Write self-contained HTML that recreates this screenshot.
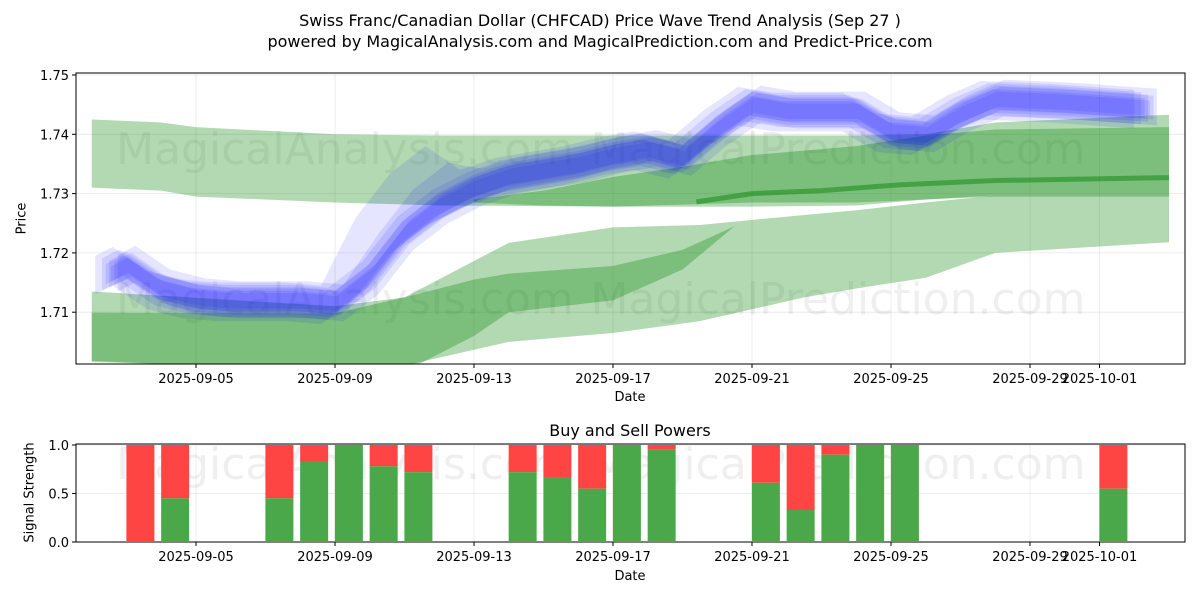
<!DOCTYPE html>
<html><head><meta charset="utf-8"><style>
body{margin:0;background:#fff;font-family:"Liberation Sans","DejaVu Sans",sans-serif}
svg text{font-family:"DejaVu Sans","Liberation Sans",sans-serif}
</style></head><body>
<svg id="c" width="1200" height="600" viewBox="0 0 1200 600" xmlns="http://www.w3.org/2000/svg">
<rect width="1200" height="600" fill="#fff"/>
<text x="600" y="26" text-anchor="middle" font-size="16">Swiss Franc/Canadian Dollar (CHFCAD) Price Wave Trend Analysis (Sep 27 )</text>
<text x="600" y="47" text-anchor="middle" font-size="16">powered by MagicalAnalysis.com and MagicalPrediction.com and Predict-Price.com</text>
<g id="main"></g>
<g id="sub"></g>
</svg>
<script>
// ---- data ----
const tickDays=[3,7,11,15,19,23,27,29];
const tickLabels=["2025-09-05","2025-09-09","2025-09-13","2025-09-17","2025-09-21","2025-09-25","2025-09-29","2025-10-01"];
const priceTicks=[1.71,1.72,1.73,1.74,1.75];
const bandAdays=[0,2,3,7,10,15,19,22,24,26,31];
const bandAtop=[1.7425,1.7420,1.7412,1.7400,1.7398,1.7398,1.7398,1.7398,1.7400,1.7420,1.7433];
const bandAbot=[1.7310,1.7305,1.7295,1.7285,1.7280,1.7278,1.7285,1.7285,1.7290,1.7295,1.7295];
const bandBdays=[0,7,9,12,15,17.5,20.5,22,24,26,31];
const bandBtop=[1.7135,1.7110,1.7125,1.7217,1.7243,1.7247,1.7264,1.7272,1.7285,1.7297,1.7297];
const bandBbot=[1.7016,1.7005,1.7010,1.7050,1.7065,1.7085,1.7125,1.7140,1.7158,1.7200,1.7218];
const bandCdays=[0,7,9,11,12,15,17,18.5];
const bandCtop=[1.7099,1.7098,1.7125,1.7155,1.7165,1.7178,1.7205,1.7245];
const bandCbot=[1.7018,1.7000,1.7000,1.7060,1.7100,1.7120,1.7172,1.7245];
const bandDdays=[11,13,15,17,19,22,24,26,31];
const bandDtop=[1.7290,1.7305,1.7328,1.7345,1.7365,1.7380,1.7398,1.7408,1.7412];
const bandDbot=[1.7285,1.7280,1.7278,1.7278,1.7278,1.7280,1.7290,1.7297,1.7297];
const meanDays=[17.4,19,21,23.3,26,31];
const meanVals=[1.7286,1.7300,1.7305,1.7315,1.7322,1.7327];
const waveDays=[0.5,1,2,3,4,6,7,8,9,10,11,12,14,15,16,17,18,19,20,22,23,24,25,26,28,30.4];
const waveVals=[1.7165,1.7180,1.7140,1.7125,1.7120,1.7120,1.7115,1.7160,1.7235,1.7280,1.7310,1.7330,1.7350,1.7365,1.7375,1.7360,1.7410,1.7450,1.7440,1.7440,1.7405,1.7400,1.7435,1.7460,1.7455,1.7445];
const barDays=[2,3,6,7,8,9,10,13,14,15,16,17,20,21,22,23,24,30];
const buyVals=[0,0.45,0.45,0.83,1.0,0.78,0.72,0.72,0.67,0.55,1.0,0.95,0.61,0.33,0.9,1.0,1.0,0.55];
const sigTicks=[0,0.5,1.0];
// ---- scales ----
const X0=76,X1=1185,Y0=73,Y1=364;
const x=d=>91.75+34.75*d;
const y=v=>75+(1.75-v)*5930;
const SY0=444,SY1=542;
const sy=v=>542-v*97;
const NS="http://www.w3.org/2000/svg";
function el(p,t,a){const e=document.createElementNS(NS,t);for(const k in a)e.setAttribute(k,a[k]);p.appendChild(e);return e;}
const main=document.getElementById('main'),sub=document.getElementById('sub');
const defs=el(document.getElementById('c'),'defs',{});
const cp=el(defs,'clipPath',{id:'clipM'});el(cp,'rect',{x:X0,y:Y0,width:X1-X0,height:Y1-Y0});
tickDays.forEach(d=>{
 const g=el(main,'line',{x1:x(d),x2:x(d),y1:Y0,y2:Y1,stroke:'#b0b0b0','stroke-opacity':0.3,'stroke-width':0.8});
 
 const g2=el(sub,'line',{x1:x(d),x2:x(d),y1:SY0,y2:SY1,stroke:'#b0b0b0','stroke-opacity':0.3,'stroke-width':0.8});
 
});
priceTicks.forEach(v=>{const g=el(main,'line',{x1:X0,x2:X1,y1:y(v),y2:y(v),stroke:'#b0b0b0','stroke-opacity':0.3,'stroke-width':0.8});
 });
sigTicks.forEach(v=>{const g=el(sub,'line',{x1:X0,x2:X1,y1:sy(v),y2:sy(v),stroke:'#b0b0b0','stroke-opacity':0.3,'stroke-width':0.8});
 });
[[345,148,'MagicalAnalysis.com'],[838,148,'MagicalPrediction.com'],[345,298,'MagicalAnalysis.com'],[838,298,'MagicalPrediction.com'],[345,463,'MagicalAnalysis.com'],[838,463,'MagicalPrediction.com']].forEach(w=>{
 const t=el(main,'text',{x:w[0],y:w[1]+16,'text-anchor':'middle','font-size':44,fill:'#808080','fill-opacity':0.13});t.textContent=w[2];
 });
const plot=el(main,'g',{'clip-path':'url(#clipM)'});
function band(days,top,bot,fill,op,name){
 let pts=days.map((d,i)=>x(d)+','+y(top[i]));
 for(let i=days.length-1;i>=0;i--)pts.push(x(days[i])+','+y(bot[i]));
 const p=el(plot,'polygon',{points:pts.join(' '),fill:fill,'fill-opacity':op});
 
}
band(bandAdays,bandAtop,bandAbot,'#008000',0.3,'forecast-band-upper');
band(bandBdays,bandBtop,bandBbot,'#008000',0.3,'forecast-band-lower');
band(bandCdays,bandCtop,bandCbot,'#008000',0.3,'forecast-band-inner');
band(bandDdays,bandDtop,bandDbot,'#008000',0.3,'forecast-band-core');
const ml=el(plot,'polyline',{points:meanDays.map((d,i)=>x(d)+','+y(meanVals[i])).join(' '),fill:'none',stroke:'#008000','stroke-opacity':0.45,'stroke-width':5});

const layers=[[0.0030,0.0035,0.10,0.8,0.007],[0.0032,0.0030,0.10,-0.5,0.004],[0.0026,0.0028,0.10,0.4,0],[0.0022,0.0024,0.10,0,0],[0.0020,0.0020,0.10,-0.3,0],[0.0016,0.0018,0.10,0.2,0],[0.0012,0.0014,0.10,-0.1,0]];
layers.forEach((L,k)=>{
 const top=waveVals.map((v,i)=>v+L[0]+(waveDays[i]>7.5&&waveDays[i]<10.5?L[4]:0));
 const bot=waveVals.map(v=>v-L[1]);
 const days=waveDays.map(d=>d-L[3]*0.5);
 let pts=days.map((d,i)=>x(d)+','+y(top[i]));
 for(let i=days.length-1;i>=0;i--)pts.push(x(days[i])+','+y(bot[i]));
 const p=el(plot,'polygon',{points:pts.join(' '),fill:'#0000ff','fill-opacity':L[2]});
 
});
el(main,'rect',{x:X0,y:Y0,width:X1-X0,height:Y1-Y0,fill:'none',stroke:'#000','stroke-width':1});
el(sub,'rect',{x:X0,y:SY0,width:X1-X0,height:SY1-SY0,fill:'none',stroke:'#000','stroke-width':1});
tickDays.forEach((d,i)=>{
 [[Y1,main,383],[SY1,sub,561]].forEach(a=>{
  el(a[1],'line',{x1:x(d),x2:x(d),y1:a[0],y2:a[0]+4,stroke:'#000'});
  const t=el(a[1],'text',{x:x(d),y:a[2],'text-anchor':'middle','font-size':13});t.textContent=tickLabels[i];
  
 });
});
priceTicks.forEach(v=>{el(main,'line',{x1:X0-4,x2:X0,y1:y(v),y2:y(v),stroke:'#000'});
 const t=el(main,'text',{x:X0-7,y:y(v)+5,'text-anchor':'end','font-size':13});t.textContent=v.toFixed(2);
 });
sigTicks.forEach(v=>{el(sub,'line',{x1:X0-4,x2:X0,y1:sy(v),y2:sy(v),stroke:'#000'});
 const t=el(sub,'text',{x:X0-7,y:sy(v)+5,'text-anchor':'end','font-size':13});t.textContent=v.toFixed(1);
 });
barDays.forEach((d,i)=>{
 const cx=x(d-0.6),w=28;
 const r=el(sub,'rect',{x:cx-w/2,y:sy(1),width:w,height:sy(buyVals[i])-sy(1),fill:'#ff4444'});
 
 const g=el(sub,'rect',{x:cx-w/2,y:sy(buyVals[i]),width:w,height:sy(0)-sy(buyVals[i]),fill:'#4aa84a'});
 
});
</script>
<div style="position:absolute;left:0;top:0;width:1200px;height:600px;pointer-events:none;font-family:'DejaVu Sans','Liberation Sans',sans-serif">
<div style="position:absolute;left:600px;top:390px;width:60px;text-align:center;font-size:13px">Date</div>
<div style="position:absolute;left:600px;top:569px;width:60px;text-align:center;font-size:13px">Date</div>
<div style="position:absolute;left:480px;top:421px;width:300px;text-align:center;font-size:16px">Buy and Sell Powers</div>
<div style="position:absolute;left:-8px;top:211px;width:60px;text-align:center;font-size:13px;transform:rotate(-90deg)">Price</div>
<div style="position:absolute;left:-30px;top:485px;width:120px;text-align:center;font-size:13px;white-space:nowrap;transform:rotate(-90deg)">Signal Strength</div>
</div>
</body></html>
